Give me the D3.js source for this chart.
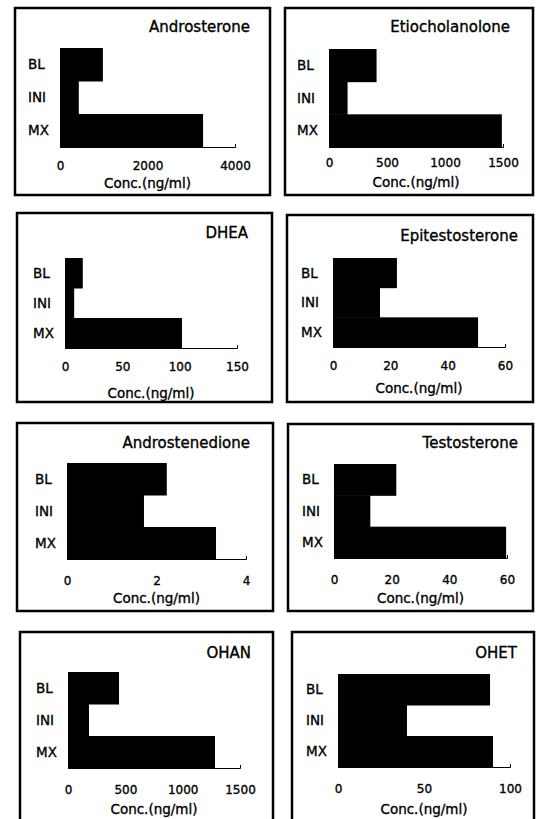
<!DOCTYPE html>
<html><head><meta charset="utf-8">
<script src="https://cdn.jsdelivr.net/npm/d3@7"></script>
<style>body{margin:0;background:#fff}svg{display:block}text{font-family:"DejaVu Sans",sans-serif;fill:#000;stroke:#000;stroke-width:0.35px}</style>
</head><body>
<svg id="c" width="538" height="819"></svg>
<script>
// ---- data ----
const categories = ["BL", "INI", "MX"];
const titles = ["Androsterone", "Etiocholanolone", "DHEA", "Epitestosterone",
                "Androstenedione", "Testosterone", "OHAN", "OHET"];
const androsterone    = [980, 430, 3270];
const etiocholanolone = [410, 160, 1490];
const dhea            = [15.5, 8, 102];
const epitestosterone = [22.3, 16.4, 50.6];
const androstenedione = [2.23, 1.72, 3.33];
const testosterone    = [21.6, 12.6, 59.7];
const ohan            = [445, 183, 1282];
const ohet            = [88.4, 40.1, 90.1];
const ticksAndrosterone    = [0, 2000, 4000];
const ticksEtiocholanolone = [0, 500, 1000, 1500];
const ticksDhea            = [0, 50, 100, 150];
const ticksEpitestosterone = [0, 20, 40, 60];
const ticksAndrostenedione = [0, 2, 4];
const ticksTestosterone    = [0, 20, 40, 60];
const ticksOhan            = [0, 500, 1000, 1500];
const ticksOhet            = [0, 50, 100];
const xAxisTitle = "Conc.(ng/ml)";

const seriesList = [androsterone, etiocholanolone, dhea, epitestosterone,
                    androstenedione, testosterone, ohan, ohet];
const tickList = [ticksAndrosterone, ticksEtiocholanolone, ticksDhea, ticksEpitestosterone,
                  ticksAndrostenedione, ticksTestosterone, ticksOhan, ticksOhet];

// ---- layout (pixels) ----
const layout = [
  {box:[15,8,270,195],   plot:[60,48,235,147],   title:[250,27],  tickY:166, atY:183},
  {box:[285,8,533,195],  plot:[329,49,503,147],  title:[510,27],  tickY:163, atY:182},
  {box:[17,213,272,402], plot:[65,258,237,348],  title:[248,233], tickY:367, atY:393},
  {box:[287,215,533,402],plot:[333,258,505,347], title:[518,236], tickY:366, atY:388},
  {box:[17,423,273,611], plot:[67,463,246,559],  title:[250,443], tickY:581, atY:598},
  {box:[288,424,533,611],plot:[334,464,507,558], title:[518,443], tickY:580, atY:598},
  {box:[20,632,273,832], plot:[68,672,240,768],  title:[251,653], tickY:790, atY:809},
  {box:[292,632,534,832],plot:[338,674,510,767], title:[517,653], tickY:789, atY:809}
];

const svg = d3.select("#c");

seriesList.forEach((vals, i) => {
  const L = layout[i];
  const ticks = tickList[i];
  const g = svg.append("g");
  const [bx0, by0, bx1, by1] = L.box;
  g.append("rect").attr("x", bx0).attr("y", by0).attr("width", bx1 - bx0).attr("height", by1 - by0)
    .attr("fill", "none").attr("stroke", "#000").attr("stroke-width", 2.5);

  const [pl, pt, pr, pb] = L.plot;
  const x = d3.scaleLinear().domain([0, d3.max(ticks)]).range([pl, pr]);
  const y = d3.scaleBand().domain(categories).range([pt, pb]).padding(0);

  g.selectAll("rect.bar").data(vals).join("rect").attr("class", "bar")
    .attr("x", x(0)).attr("y", (d, j) => y(categories[j]))
    .attr("width", d => x(d) - x(0)).attr("height", y.bandwidth() + 0.5)
    .attr("fill", "#000");

  const ax = g.append("g").attr("transform", `translate(0,${pb})`)
    .call(d3.axisBottom(x).tickValues(ticks).tickFormat(d3.format("d"))
      .tickSizeInner(0).tickSizeOuter(-3));
  ax.select(".domain").attr("stroke", "#000").attr("stroke-width", 1);
  ax.selectAll(".tick text").attr("y", L.tickY - pb).attr("dy", "0.35em")
    .style("font-family", '"DejaVu Sans",sans-serif').style("font-size", "12px")
    .attr("fill", "#000").style("stroke", "#000").style("stroke-width", "0.35px");

  g.selectAll("text.cat").data(categories).join("text").attr("class", "cat")
    .attr("x", pl - 32).attr("y", d => y(d) + y.bandwidth() / 2).attr("dy", "0.35em")
    .attr("text-anchor", "start").style("font-size", "13.5px").text(d => d);

  g.append("text").attr("x", L.title[0]).attr("y", L.title[1]).attr("dy", "0.35em")
    .attr("text-anchor", "end").style("font-size", "15px").text(titles[i]);

  g.append("text").attr("x", (pl + pr) / 2).attr("y", L.atY).attr("dy", "0.35em")
    .attr("text-anchor", "middle").style("font-size", "13.5px").text(xAxisTitle);
});
</script>
</body></html>
